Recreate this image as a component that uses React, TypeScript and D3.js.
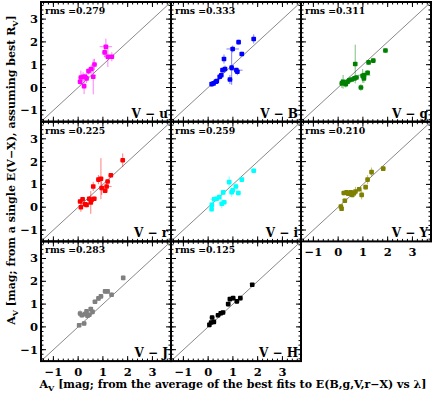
import React from 'react';
import * as d3 from 'd3';

// [x, y, xerr, yerr] per object
const ptsU = [
  [0.08, 0.25, 0.1, 0.15], [0.11, 0.44, 0.1, 0.3], [0.2, 0.47, 0.15, 0.2], [0.28, 0.47, 0.1, 0.15],
  [0.34, 0.4, 0.1, 0.2], [0.24, 0.06, 0.1, 0.35], [0.42, 0.72, 0.1, 0.15], [0.53, 0.81, 0.1, 0.2],
  [0.66, 1.01, 0.1, 0.25], [0.61, 0.47, 0.05, 0.77], [1.12, 1.79, 0.25, 0.35], [1.07, 1.54, 0.1, 0.2],
  [1.2, 1.35, 0.15, 0.45], [1.36, 1.35, 0.1, 0.2],
];
const ptsB = [
  [0.14, 0.15, 0.05, 0.1], [0.22, 0.18, 0.1, 0.1], [0.31, 0.25, 0.1, 0.1], [0.35, 0.28, 0.05, 0.1],
  [0.47, 0.47, 0.1, 0.15], [0.53, 0.54, 0.1, 0.1], [0.58, 0.76, 0.1, 0.1], [0.68, 0.81, 0.1, 0.15],
  [0.64, 1.25, 0.05, 0.2], [0.88, 0.35, 0.1, 0.2], [0.95, 0.87, 0.1, 0.75], [0.99, 1.69, 0.25, 0.15],
  [1.14, 0.76, 0.25, 0.1], [1.18, 0.69, 0.1, 0.15], [1.23, 1.99, 0.1, 0.1], [1.36, 1.47, 0.1, 0.1],
  [1.84, 2.13, 0.1, 0.2],
];
const ptsG = [
  [0.15, 0.18, 0.1, 0.2], [0.2, 0.25, 0.1, 0.3], [0.31, 0.15, 0.1, 0.15], [0.38, 0.25, 0.1, 0.1],
  [0.45, 0.32, 0.1, 0.15], [0.55, 0.35, 0.1, 0.1], [0.66, 0.4, 0.1, 0.1], [0.69, 1.03, 0.05, 0.85],
  [0.74, 0.44, 0.1, 0.1], [0.92, 0.0, 0.1, 0.15], [0.99, 0.51, 0.1, 0.3], [1.05, 0.54, 0.25, 0.15],
  [1.19, 0.65, 0.1, 0.1], [1.23, 1.1, 0.1, 0.1], [1.42, 1.18, 0.1, 0.1], [1.91, 1.62, 0.1, 0.1],
  [1.04, 0.4, 0.1, 0.2],
];
const ptsR = [
  [0.08, 0.25, 0.1, 0.1], [0.11, 0.0, 0.05, 0.2], [0.18, 0.35, 0.1, 0.1], [0.28, 0.13, 0.1, 0.1],
  [0.34, 0.1, 0.1, 0.1], [0.45, 0.37, 0.1, 0.1], [0.51, 0.21, 0.05, 0.5], [0.54, 0.32, 0.1, 0.1],
  [0.65, 0.37, 0.1, 0.1], [0.61, 0.91, 0.05, 0.2], [0.82, 1.21, 0.1, 0.2], [0.92, 1.25, 0.1, 0.9],
  [0.95, 0.84, 0.1, 0.3], [1.09, 0.72, 0.1, 0.1], [1.15, 0.91, 0.2, 0.15], [1.19, 1.13, 0.1, 0.1],
  [1.32, 1.4, 0.1, 0.1], [1.8, 2.06, 0.1, 0.3],
];
const ptsI = [
  [0.14, -0.09, 0.05, 0.1], [0.15, 0.1, 0.05, 0.1], [0.24, 0.35, 0.15, 0.1], [0.34, 0.37, 0.1, 0.1],
  [0.45, 0.44, 0.1, 0.1], [0.55, 0.15, 0.1, 0.2], [0.65, 0.22, 0.1, 0.1], [0.61, 0.65, 0.05, 0.1],
  [0.85, 1.1, 0.1, 0.25], [0.95, 0.66, 0.1, 0.2], [0.99, 0.74, 0.1, 0.1], [1.12, 0.91, 0.1, 0.15],
  [1.22, 0.62, 0.1, 0.1], [1.36, 1.21, 0.1, 0.1], [1.84, 1.6, 0.1, 0.1],
];
const ptsY = [
  [0.11, 0.03, 0.05, 0.1], [0.14, -0.07, 0.05, 0.1], [0.27, 0.28, 0.05, 0.1], [0.23, 0.62, 0.1, 0.1],
  [0.34, 0.65, 0.2, 0.1], [0.41, 0.59, 0.1, 0.1], [0.51, 0.65, 0.1, 0.1], [0.57, 0.54, 0.1, 0.1],
  [0.64, 0.62, 0.1, 0.1], [0.7, 0.69, 0.1, 0.2], [0.85, 0.79, 0.1, 0.1], [0.95, 0.54, 0.1, 0.2],
  [1.11, 0.88, 0.1, 0.1], [1.19, 1.21, 0.1, 0.2], [1.35, 1.54, 0.1, 0.2], [1.82, 1.69, 0.1, 0.1],
];
const ptsJ = [
  [0.04, 0.07, 0.05, 0.1], [0.08, 0.59, 0.1, 0.15], [0.15, 0.51, 0.1, 0.1], [0.24, 0.15, 0.1, 0.1],
  [0.28, 0.56, 0.1, 0.1], [0.34, 0.68, 0.1, 0.1], [0.38, 0.49, 0.1, 0.15], [0.45, 0.53, 0.1, 0.1],
  [0.51, 0.78, 0.1, 0.1], [0.58, 0.66, 0.1, 0.1], [0.68, 1.1, 0.1, 0.1], [0.82, 1.25, 0.1, 0.1],
  [0.92, 1.34, 0.1, 0.1], [1.09, 1.56, 0.1, 0.1], [1.19, 1.56, 0.1, 0.1], [1.35, 1.41, 0.1, 0.1],
  [1.82, 2.15, 0.05, 0.1],
];
const ptsH = [
  [0.05, 0.09, 0.05, 0.1], [0.12, 0.19, 0.1, 0.1], [0.23, 0.22, 0.1, 0.1], [0.16, 0.41, 0.1, 0.1],
  [0.4, 0.51, 0.1, 0.1], [0.51, 0.6, 0.1, 0.1], [0.6, 0.63, 0.1, 0.1], [0.81, 1.0, 0.1, 0.1],
  [0.88, 1.22, 0.1, 0.1], [1.01, 1.26, 0.1, 0.1], [1.16, 1.12, 0.1, 0.1], [1.3, 1.26, 0.1, 0.1],
  [1.78, 1.85, 0.05, 0.05],
];

const bands = ['V \u2212 u', 'V \u2212 B', 'V \u2212 g', 'V \u2212 r', 'V \u2212 i', 'V \u2212 Y', 'V \u2212 J', 'V \u2212 H'];
const rmsValues = ['0.279', '0.333', '0.311', '0.225', '0.259', '0.210', '0.283', '0.125'];
const colors = ['#ff00ff', '#0000ff', '#008000', '#ff0000', '#00ffff', '#808000', '#808080', '#000000'];
const pointSets = [ptsU, ptsB, ptsG, ptsR, ptsI, ptsY, ptsJ, ptsH];
const tickValues = [-1, 0, 1, 2, 3];

const font = 'DejaVu Serif';
const left = 41, top = 2, pw = 130, ph = 119.7;
const domain: [number, number] = [-1.5, 3.75];
const minorTicks = d3.range(-1.4, 3.75, 0.2).map(v => Math.round(v * 10) / 10);

function Panel({ idx }: { idx: number }) {
  const col = idx % 3, row = Math.floor(idx / 3);
  const x0 = left + col * pw, y0 = top + row * ph;
  const x = d3.scaleLinear().domain(domain).range([0, pw]);
  const y = d3.scaleLinear().domain(domain).range([ph, 0]);
  const c = colors[idx];
  const pts = pointSets[idx];
  const showY = col === 0;
  const showX = row === 2 || idx === 5;
  return (
    <g transform={`translate(${x0},${y0})`}>
      <line x1={x(domain[0])} y1={y(domain[0])} x2={x(domain[1])} y2={y(domain[1])} stroke="#555" strokeWidth={0.7} />
      {pts.map((p, i) => (
        <g key={i} stroke={c} strokeOpacity={0.5} strokeWidth={1}>
          <line x1={x(p[0] - p[2])} x2={x(p[0] + p[2])} y1={y(p[1])} y2={y(p[1])} />
          <line x1={x(p[0])} x2={x(p[0])} y1={y(p[1] - p[3])} y2={y(p[1] + p[3])} />
        </g>
      ))}
      {pts.map((p, i) => (
        <rect key={i} x={x(p[0]) - 2.3} y={y(p[1]) - 2.3} width={4.6} height={4.6} rx={0.8} fill={c} />
      ))}
      {/* ticks on all four sides, pointing in */}
      <g stroke="#000" strokeWidth={1}>
        {tickValues.map(v => (
          <g key={'M' + v}>
            <line x1={x(v)} x2={x(v)} y1={ph} y2={ph - 5} />
            <line x1={x(v)} x2={x(v)} y1={0} y2={5} />
            <line y1={y(v)} y2={y(v)} x1={0} x2={5} />
            <line y1={y(v)} y2={y(v)} x1={pw} x2={pw - 5} />
          </g>
        ))}
        {minorTicks.map(v => (
          <g key={'m' + v}>
            <line x1={x(v)} x2={x(v)} y1={ph} y2={ph - 2.5} />
            <line x1={x(v)} x2={x(v)} y1={0} y2={2.5} />
            <line y1={y(v)} y2={y(v)} x1={0} x2={2.5} />
            <line y1={y(v)} y2={y(v)} x1={pw} x2={pw - 2.5} />
          </g>
        ))}
      </g>
      <rect x={0} y={0} width={pw} height={ph} fill="none" stroke="#000" strokeWidth={2} />
      <text x={4} y={12} fontFamily={font} fontWeight="bold" fontSize={9.3}>rms ={rmsValues[idx]}</text>
      <text x={pw - 3} y={ph - 4} textAnchor="end" fontFamily={font} fontWeight="bold" fontSize={12}>{bands[idx]}</text>
      {showY && tickValues.map(v => (
        <text key={v} x={-3} y={y(v) + 4} textAnchor="end" fontFamily={font} fontWeight="bold" fontSize={11.5}>
          {v < 0 ? '\u2212' + Math.abs(v) : v}
        </text>
      ))}
      {showX && tickValues.map(v => (
        <text key={v} x={x(v)} y={ph + 15} textAnchor="middle" fontFamily={font} fontWeight="bold" fontSize={11.5}>
          {v < 0 ? '\u2212' + Math.abs(v) : v}
        </text>
      ))}
    </g>
  );
}

export default function App() {
  return (
    <svg width={436} height={397} style={{ position: 'absolute', left: 0, top: 0 }}>
      <rect width={436} height={397} fill="#fff" />
      {d3.range(8).map(i => <Panel key={i} idx={i} />)}
      <text transform="translate(15,170) rotate(-90)" textAnchor="middle" fontFamily={font} fontWeight="bold" fontSize={11}>
        A<tspan fontSize={8} dy={3}>V</tspan><tspan dy={-3}> [mag; from a single E(V{'\u2212'}X), assuming best R</tspan><tspan fontSize={8} dy={3}>V</tspan><tspan dy={-3}>]</tspan>
      </text>
      <text x={233} y={388} textAnchor="middle" fontFamily={font} fontWeight="bold" fontSize={11}>
        A<tspan fontSize={8} dy={3}>V</tspan><tspan dy={-3}> [mag; from the average of the best fits to E(B,g,V,r{'\u2212'}X) vs {'\u03bb'}]</tspan>
      </text>
    </svg>
  );
}
